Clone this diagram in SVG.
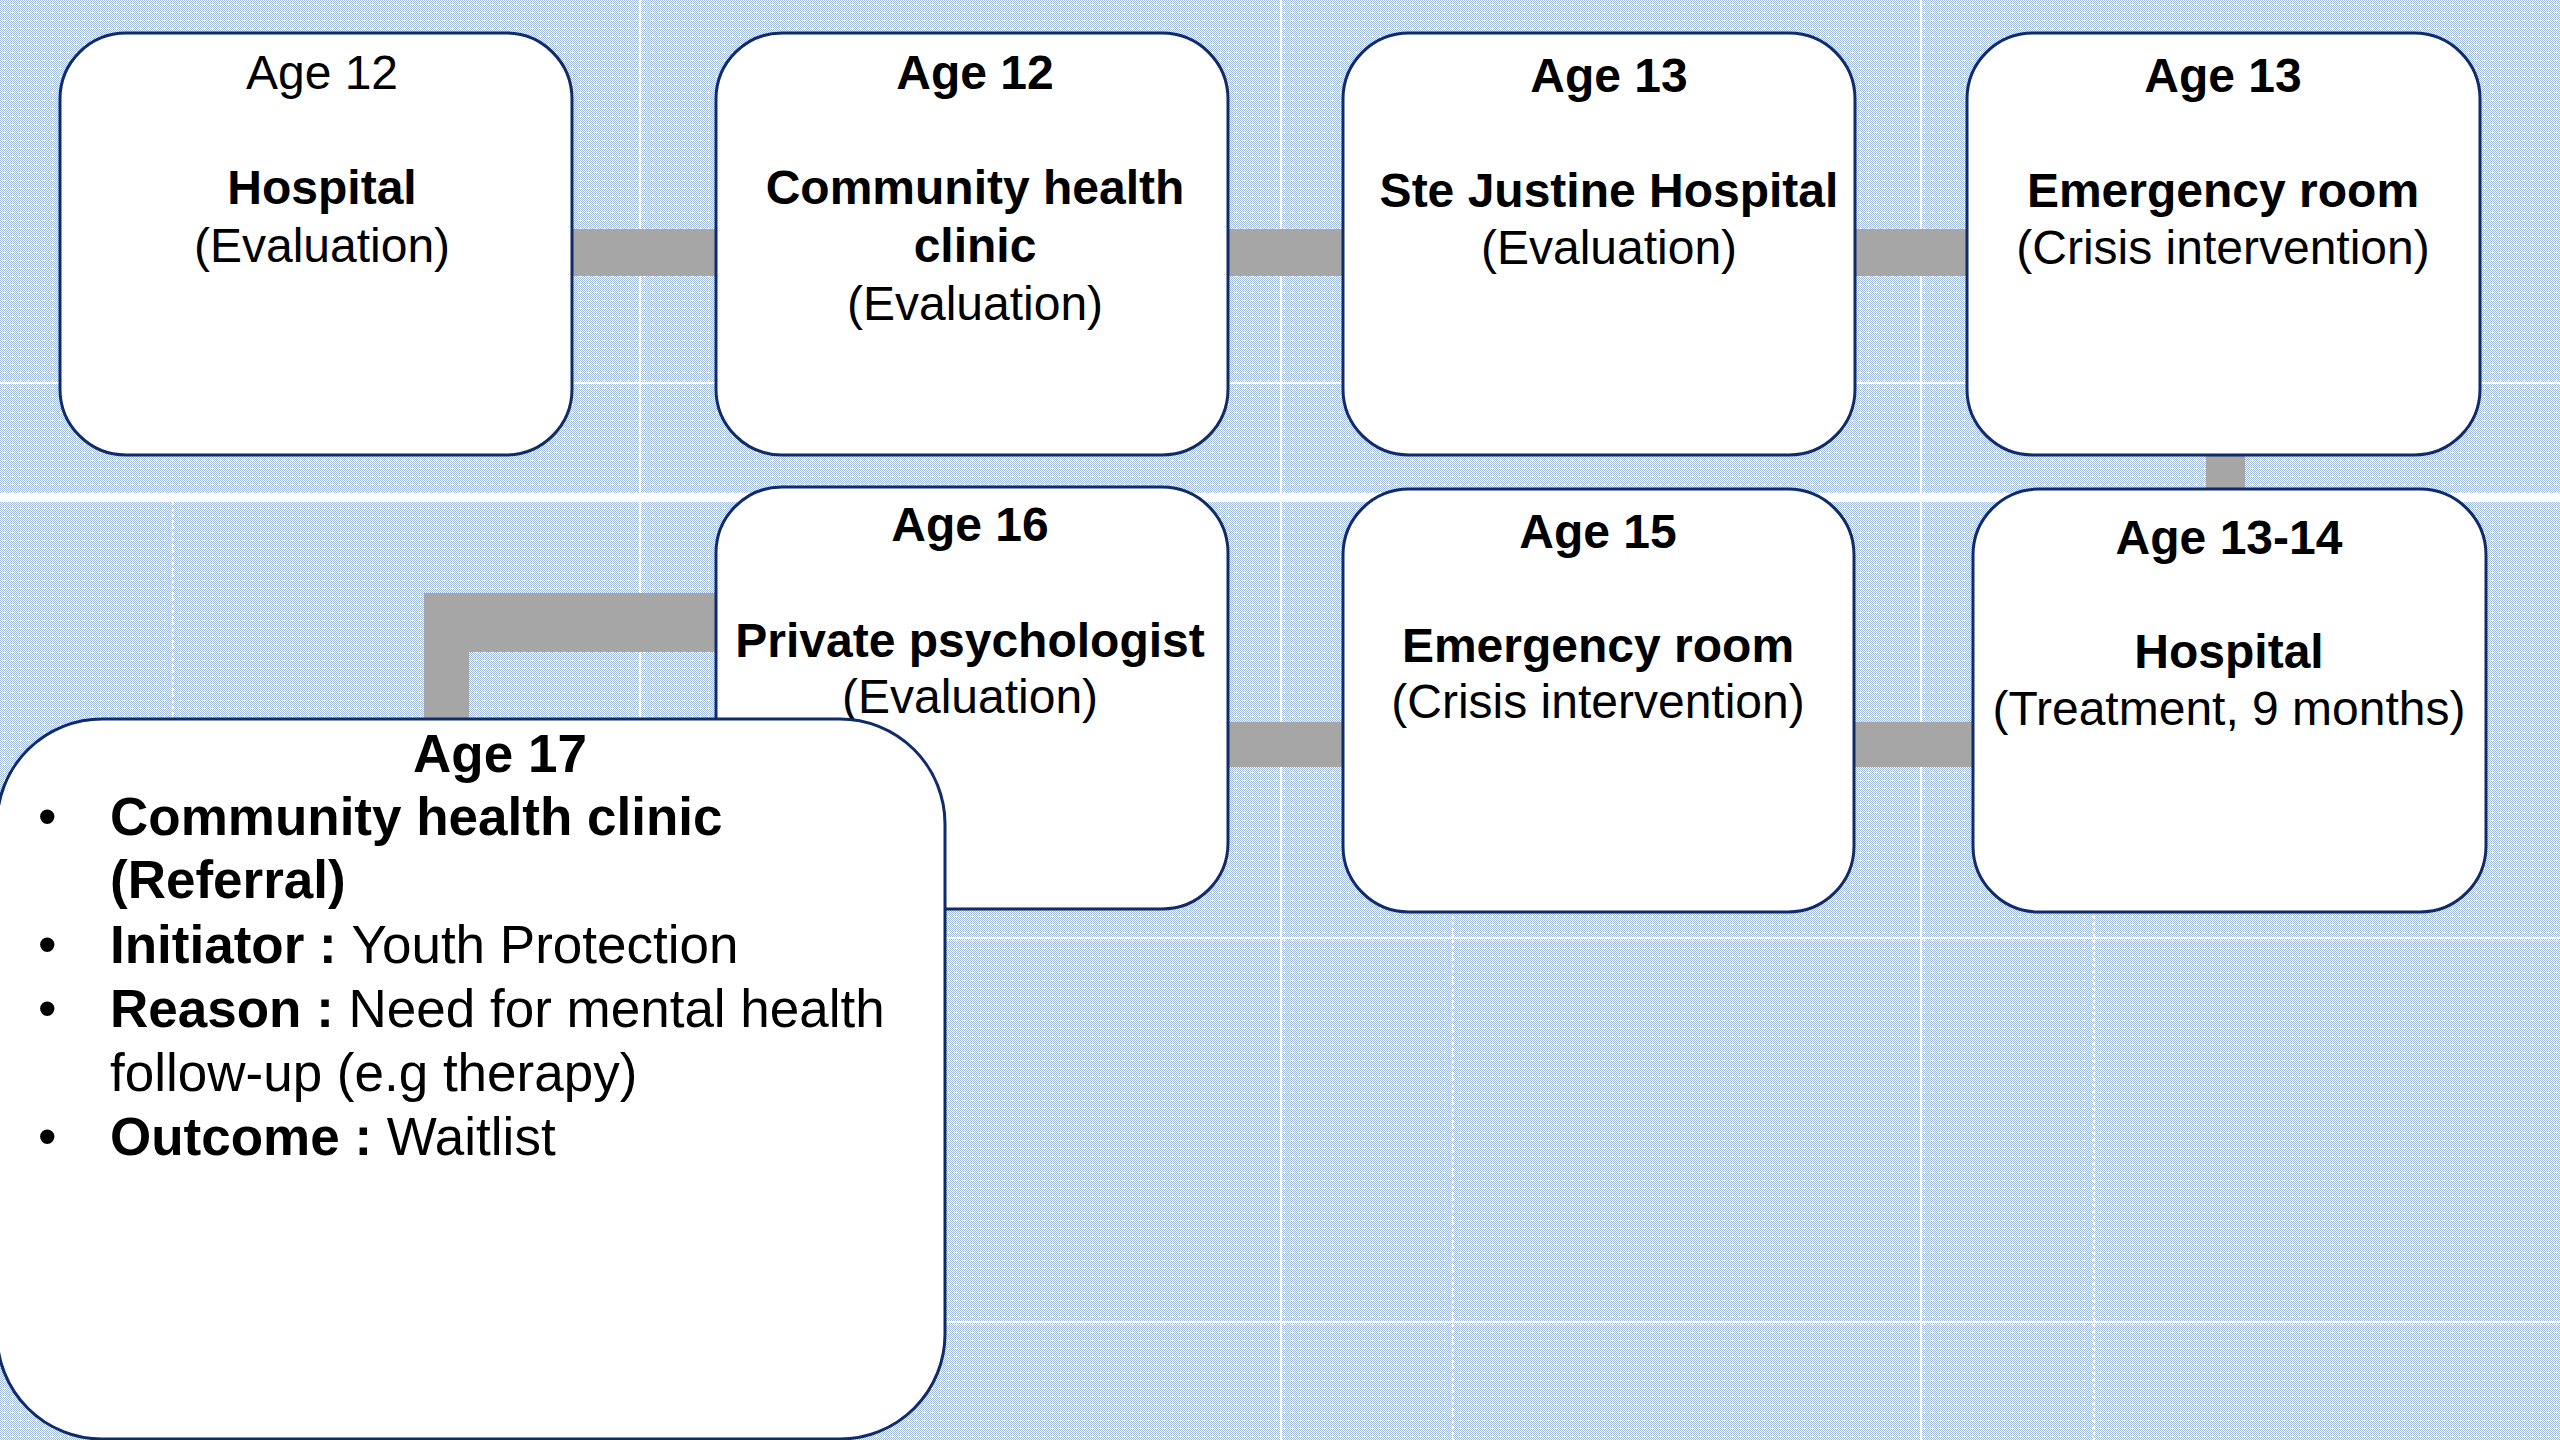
<svg xmlns="http://www.w3.org/2000/svg" width="2560" height="1440" viewBox="0 0 2560 1440">
<defs>
<pattern id="chk" width="2" height="2" patternUnits="userSpaceOnUse">
<rect width="2" height="2" fill="#ffffff"/>
<rect width="1" height="1" fill="#9fb8e4"/>
<rect x="1" y="1" width="1" height="1" fill="#9fb8e4"/>
</pattern>
<pattern id="dots" width="8" height="8" patternUnits="userSpaceOnUse">
<rect x="4" y="4" width="1" height="1" fill="#ffffff"/>
</pattern>
</defs>
<style>
.box{fill:#ffffff;stroke:#0f2b69;stroke-width:3}
.conn{fill:#a6a6a6;stroke:none}
.seam{stroke:#ffffff;stroke-width:2;fill:none}
.seamd{stroke:#ffffff;stroke-width:2;fill:none;stroke-dasharray:3 3}
text{font-family:"Liberation Sans",Arial,Helvetica,sans-serif;fill:#000000}
.t{font-size:48px;text-anchor:middle}
.b{font-weight:bold}
.l{font-size:53px}
</style>
<g id="background">
<rect width="2560" height="1440" fill="url(#chk)"/>
<rect width="2560" height="1440" fill="url(#dots)"/>
<line class="seam" x1="0" y1="383" x2="2560" y2="383"/>
<rect x="0" y="493" width="2560" height="9" fill="#ffffff"/>
<line class="seam" x1="0" y1="938" x2="2560" y2="938"/>
<line class="seam" x1="0" y1="1322" x2="2560" y2="1322"/>
<line class="seam" x1="640" y1="0" x2="640" y2="1440"/>
<line class="seam" x1="1281" y1="0" x2="1281" y2="1440"/>
<line class="seam" x1="1921" y1="0" x2="1921" y2="1440"/>
<line class="seamd" x1="173" y1="502" x2="173" y2="1440"/>
<line class="seamd" x1="1453" y1="502" x2="1453" y2="1440"/>
<line class="seamd" x1="2094" y1="502" x2="2094" y2="1440"/>
</g>
<g id="connectors">
<rect class="conn" x="572" y="229" width="144" height="47"/>
<rect class="conn" x="1228" y="229" width="115" height="47"/>
<rect class="conn" x="1855" y="229" width="112" height="47"/>
<rect class="conn" x="2206" y="455" width="39" height="34"/>
<rect class="conn" x="1854" y="722" width="119" height="45"/>
<rect class="conn" x="1228" y="722" width="115" height="45"/>
<path class="conn" d="M716 593 H424 V720 H469 V652 H716 Z"/>
</g>
<g id="node-age12-hospital">
<rect class="box" x="60" y="33" width="512" height="422" rx="66"/>
<text class="t" x="322" y="89">Age 12</text>
<text class="t b" x="322" y="204">Hospital</text>
<text class="t" x="322" y="262">(Evaluation)</text>
</g>
<g id="node-age12-clinic">
<rect class="box" x="716" y="33" width="512" height="422" rx="66"/>
<text class="t b" x="975" y="89">Age 12</text>
<text class="t b" x="975" y="204">Community health</text>
<text class="t b" x="975" y="262">clinic</text>
<text class="t" x="975" y="320">(Evaluation)</text>
</g>
<g id="node-age13-stejustine">
<rect class="box" x="1343" y="33" width="512" height="422" rx="66"/>
<text class="t b" x="1609" y="92">Age 13</text>
<text class="t b" x="1609" y="207">Ste Justine Hospital</text>
<text class="t" x="1609" y="264">(Evaluation)</text>
</g>
<g id="node-age13-er">
<rect class="box" x="1967" y="33" width="513" height="422" rx="66"/>
<text class="t b" x="2223" y="92">Age 13</text>
<text class="t b" x="2223" y="207">Emergency room</text>
<text class="t" x="2223" y="264">(Crisis intervention)</text>
</g>
<g id="node-age1314-hospital">
<rect class="box" x="1973" y="489" width="513" height="423" rx="66"/>
<text class="t b" x="2229" y="554">Age 13-14</text>
<text class="t b" x="2229" y="668">Hospital</text>
<text class="t" x="2229" y="725">(Treatment, 9 months)</text>
</g>
<g id="node-age15-er">
<rect class="box" x="1343" y="489" width="511" height="423" rx="66"/>
<text class="t b" x="1598" y="548">Age 15</text>
<text class="t b" x="1598" y="662">Emergency room</text>
<text class="t" x="1598" y="718">(Crisis intervention)</text>
</g>
<g id="node-age16-psychologist">
<rect class="box" x="716" y="487" width="512" height="422" rx="66"/>
<text class="t b" x="970" y="541">Age 16</text>
<text class="t b" x="970" y="657">Private psychologist</text>
<text class="t" x="970" y="713">(Evaluation)</text>
</g>
<g id="node-age17-clinic">
<rect class="box" x="-3" y="719" width="948" height="720" rx="105"/>
<text class="l b" x="500" y="772" text-anchor="middle">Age 17</text>
<text class="l" x="38" y="835">•</text>
<text class="l b" x="110" y="835">Community health clinic</text>
<text class="l b" x="110" y="898">(Referral)</text>
<text class="l" x="38" y="963">•</text>
<text class="l" x="110" y="963"><tspan class="b">Initiator : </tspan>Youth Protection</text>
<text class="l" x="38" y="1027">•</text>
<text class="l" x="110" y="1027"><tspan class="b">Reason : </tspan>Need for mental health</text>
<text class="l" x="110" y="1091">follow-up (e.g therapy)</text>
<text class="l" x="38" y="1155">•</text>
<text class="l" x="110" y="1155"><tspan class="b">Outcome : </tspan>Waitlist</text>
</g>
</svg>
